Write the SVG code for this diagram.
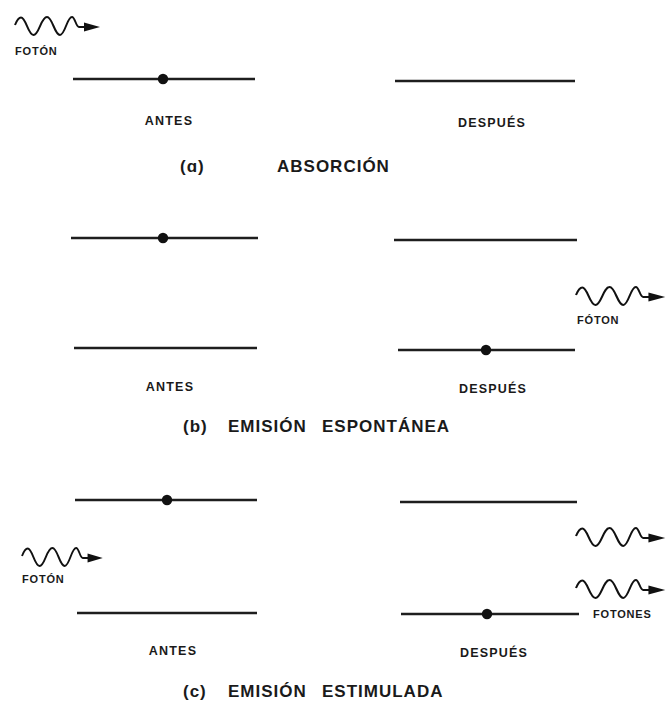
<svg xmlns="http://www.w3.org/2000/svg" xmlns:xlink="http://www.w3.org/1999/xlink" width="666" height="702" viewBox="0 0 666 702">
  <style>
    .level { stroke: #1e1e1e; stroke-width: 2.4; fill: none; stroke-linecap: butt; }
    .electron { fill: #111; }
    .wave { stroke: #111; stroke-width: 2; fill: none; stroke-linejoin: round; }
    .head { fill: #111; }
    text { font-family: "Liberation Sans", Arial, sans-serif; font-weight: bold; fill: #1a1a1a; }
    .state { font-size: 12.5px; letter-spacing: 1.2px; text-anchor: middle; }
    .title { font-size: 17px; letter-spacing: 1px; }
    .tag { font-size: 11px; letter-spacing: 0.8px; }
  </style>
  <defs>
    <!-- photon: wavy line ending in an arrowhead, origin at start of wave, mid-line y=0 -->
    <g id="photon">
      <path class="wave" d="M0,-1 C2,-6 4,-8.5 6,-8.5 C11,-8.5 13,9 18.5,9 C24,9 26,-9 32,-9 C37.5,-9 39.5,9 45,9 C50,9 52,-9 57,-9 C60,-9 61,1 64,1 L72,1"/>
      <polygon class="head" points="69,-3.5 85,1 69,5.5"/>
    </g>
  </defs>

  <!-- (a) absorption -->
  <g id="a-photon-in">
    <use xlink:href="#photon" href="#photon" transform="translate(15,26)"/>
    <text class="tag" x="15" y="55">FOTÓN</text>
  </g>
  <g id="a-before">
    <line class="level" x1="73" y1="79" x2="255" y2="79"/>
    <circle class="electron" cx="163" cy="79" r="5.2"/>
    <text class="state" x="169" y="125">ANTES</text>
  </g>
  <g id="a-after">
    <line class="level" x1="395" y1="81" x2="575" y2="81"/>
    <text class="state" x="492" y="127">DESPUÉS</text>
  </g>
  <g id="a-title">
    <text class="title" x="180" y="172" letter-spacing="4">(ɑ)</text>
    <text class="title" x="277" y="172">ABSORCIÓN</text>
  </g>

  <!-- (b) spontaneous emission -->
  <g id="b-before">
    <line class="level" x1="71" y1="238" x2="258" y2="238"/>
    <circle class="electron" cx="163" cy="238" r="5.2"/>
    <line class="level" x1="74" y1="348" x2="257" y2="348"/>
    <text class="state" x="170" y="391">ANTES</text>
  </g>
  <g id="b-after">
    <line class="level" x1="394" y1="240" x2="577" y2="240"/>
    <line class="level" x1="398" y1="350" x2="575" y2="350"/>
    <circle class="electron" cx="486" cy="350" r="5.2"/>
    <text class="state" x="493" y="393">DESPUÉS</text>
  </g>
  <g id="b-photon-out">
    <use xlink:href="#photon" href="#photon" transform="translate(576,296) scale(1.05,1)"/>
    <text class="tag" x="577" y="324">FÓTON</text>
  </g>
  <g id="b-title">
    <text class="title" x="183" y="432">(b)</text>
    <text class="title" x="228" y="432">EMISIÓN</text>
    <text class="title" x="322" y="432">ESPONTÁNEA</text>
  </g>

  <!-- (c) stimulated emission -->
  <g id="c-before">
    <line class="level" x1="75" y1="500" x2="257" y2="500"/>
    <circle class="electron" cx="167" cy="500" r="5.2"/>
    <line class="level" x1="77" y1="613" x2="257" y2="613"/>
    <text class="state" x="173" y="655">ANTES</text>
  </g>
  <g id="c-photon-in">
    <use xlink:href="#photon" href="#photon" transform="translate(22,557) scale(0.95,1)"/>
    <text class="tag" x="22" y="583">FOTÓN</text>
  </g>
  <g id="c-after">
    <line class="level" x1="400" y1="502" x2="577" y2="502"/>
    <line class="level" x1="401" y1="614" x2="579" y2="614"/>
    <circle class="electron" cx="487" cy="614" r="5.2"/>
    <text class="state" x="494" y="657">DESPUÉS</text>
  </g>
  <g id="c-photons-out">
    <use xlink:href="#photon" href="#photon" transform="translate(576,537) scale(1.05,1)"/>
    <use xlink:href="#photon" href="#photon" transform="translate(576,589) scale(1.05,1)"/>
    <text class="tag" x="593" y="618" letter-spacing="1.3">FOTONES</text>
  </g>
  <g id="c-title">
    <text class="title" x="183" y="697">(c)</text>
    <text class="title" x="228" y="697">EMISIÓN</text>
    <text class="title" x="322" y="697">ESTIMULADA</text>
  </g>
</svg>
